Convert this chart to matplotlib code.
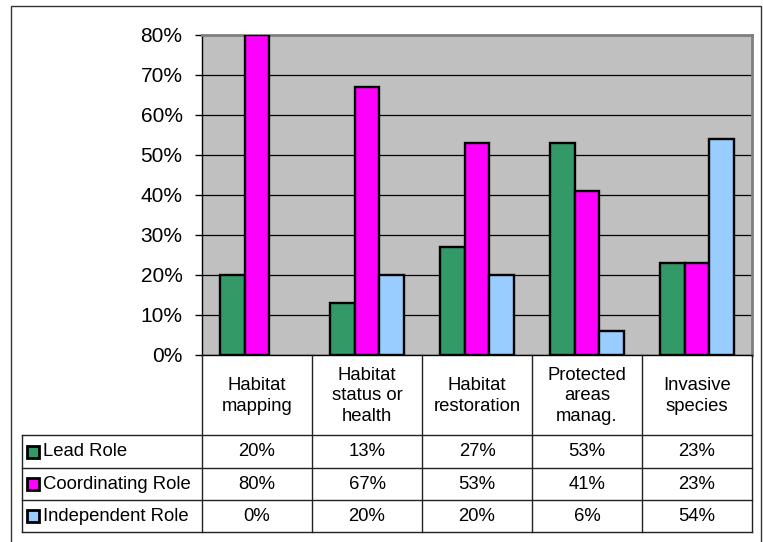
import matplotlib
matplotlib.use('Agg')
import matplotlib.pyplot as plt
from matplotlib.patches import Rectangle
from matplotlib.ticker import MultipleLocator, FuncFormatter

plt.rcParams['font.family'] = ['Liberation Sans', 'DejaVu Sans']

# survey results, percent of respondents
categories = ['Habitat\nmapping', 'Habitat\nstatus or\nhealth', 'Habitat\nrestoration',
              'Protected\nareas\nmanag.', 'Invasive\nspecies']
roles = ['Lead Role', 'Coordinating Role', 'Independent Role']
lead = [20, 13, 27, 53, 23]
coordinating = [80, 67, 53, 41, 23]
independent = [0, 20, 20, 6, 54]
series = [lead, coordinating, independent]
colors = ['#339966', '#FF00FF', '#99CCFF']

W, H = 763, 542
fig = plt.figure(figsize=(W / 100, H / 100), dpi=100)

def px_box(x0, y0, x1, y1):
    # pixel box (top-left origin) -> figure fraction rect
    return [x0 / W, 1 - y1 / H, (x1 - x0) / W, (y1 - y0) / H]

# outer chart frame
fig.add_artist(Rectangle((11 / W, -0.02), 750 / W, 1 - 6 / H + 0.02,
                         transform=fig.transFigure, fill=False,
                         edgecolor='#333333', lw=1, zorder=0))

ax = fig.add_axes(px_box(202, 35, 752, 355))
ax.set_facecolor('#C0C0C0')
n = len(categories)
bw = (2 / 3) / len(series)
for i, (vals, col) in enumerate(zip(series, colors)):
    xs = [k + (i - 1) * bw for k in range(n)]
    edges = ['black' if v > 0 else 'none' for v in vals]
    ax.bar(xs, vals, width=bw, color=col, edgecolor=edges, lw=1.7, zorder=3)

ax.set_xlim(-0.5, n - 0.5)
ax.set_ylim(0, 80)
ax.yaxis.set_major_locator(MultipleLocator(10))
ax.yaxis.set_major_formatter(FuncFormatter(lambda v, p: '%d%%' % v))
ax.grid(axis='y', color='black', lw=0.9, zorder=1)
ax.set_xticks([])
ax.tick_params(axis='y', length=5, width=1, pad=9, labelsize=15, colors='black')
for s in ['top', 'right']:
    ax.spines[s].set_color('#808080')
    ax.spines[s].set_linewidth(2)
ax.spines['left'].set_linewidth(1)
ax.spines['bottom'].set_linewidth(1)

# data table below the plot, x in category units, y in pixel rows
tax = fig.add_axes(px_box(22, 355, 752, 532))
tax.set_xlim(-0.5 - 180 / 110, n - 0.5)
tax.set_ylim(532, 355)
tax.axis('off')
x_left = -0.5 - 180 / 110
rows = [355, 435, 468, 500, 532]
lc = '#222222'
for k in range(n + 1):
    tax.plot([k - 0.5, k - 0.5], [rows[0], rows[-1]], color=lc, lw=1, clip_on=False)
tax.plot([x_left, x_left], [rows[1], rows[-1]], color=lc, lw=1, clip_on=False)
for y in rows[1:]:
    tax.plot([x_left, n - 0.5], [y, y], color=lc, lw=1, clip_on=False)

for k, name in enumerate(categories):
    tax.text(k, (rows[0] + rows[1]) / 2 + 1, name, ha='center', va='center',
             fontsize=13.3, linespacing=1.3)

# legend keys sit in the row-label column
for r, (role, vals, col) in enumerate(zip(roles, series, colors)):
    yc = (rows[r + 1] + rows[r + 2]) / 2
    tax.add_patch(Rectangle((x_left + 5 / 110, yc - 6), 12 / 110, 12,
                            facecolor=col, edgecolor='black', lw=2, clip_on=False))
    tax.text(x_left + 21 / 110, yc + 0.5, role, ha='left', va='center', fontsize=13.3)
    for k, v in enumerate(vals):
        tax.text(k, yc + 0.5, '%d%%' % v, ha='center', va='center', fontsize=13.3)

fig.savefig('out.png', dpi=100)
